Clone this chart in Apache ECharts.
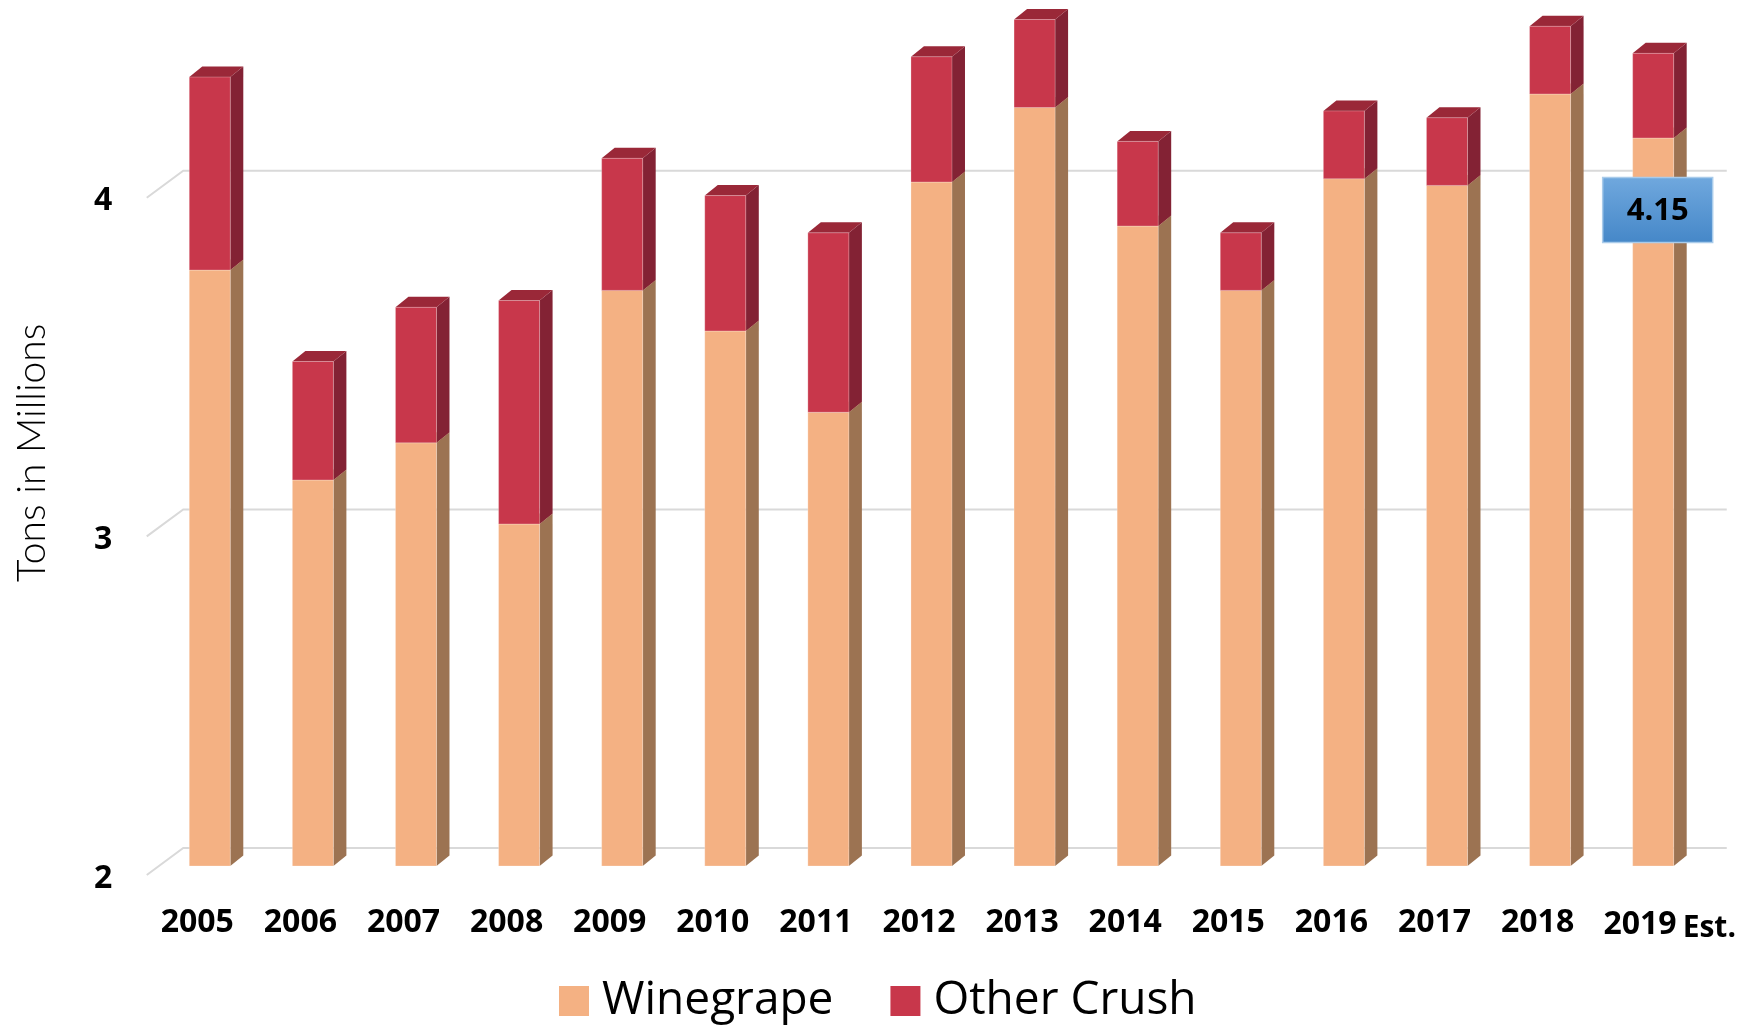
<!DOCTYPE html>
<html>
<head>
<meta charset="utf-8">
<script src="https://cdn.jsdelivr.net/npm/echarts@6/dist/echarts.min.js"></script>
<style>
html,body{margin:0;padding:0;background:#fff;}
#chart{width:1744px;height:1028px;}
</style>
</head>
<body>
<div id="chart"></div>
<script>
// ---- data ----
const years = ['2005','2006','2007','2008','2009','2010','2011','2012','2013','2014','2015','2016','2017','2018','2019'];
const estimateSuffix = 'Est.';
const winegrape  = [3.76, 3.14, 3.25, 3.01, 3.70, 3.58, 3.34, 4.02, 4.24, 3.89, 3.70, 4.03, 4.01, 4.28, 4.15];
const otherCrush = [0.57, 0.35, 0.40, 0.66, 0.39, 0.40, 0.53, 0.37, 0.26, 0.25, 0.17, 0.20, 0.20, 0.20, 0.25];
const yTicks = [2, 3, 4];
const labeledIndex = 14; // 2019 Est. winegrape value label
const axisMin = 2, axisMax = 4.5;

// ---- styling ----
const DX = 13, DY = 10.5;          // depth of pseudo-3D bars
const BAR_RATIO = 0.398;           // bar front width / band width
const BAR_SHIFT = -0.078;          // bar front left offset from band centre (in bands)
const colors = {
  wine:  {front:'#F4B183', side:'#9C7352', top:'#C98F66'},
  other: {front:'#C8374B', side:'#832234', top:'#9A2838'}
};

const chart = echarts.init(document.getElementById('chart'), null, {renderer:'canvas'});

function barItem(c, isLabelSeries) {
  return function (params, api) {
    const i = api.value(0), base = api.value(1), top = api.value(2);
    const band = api.size([1, 0])[0];
    const pT = api.coord([i, top]);
    const pB = api.coord([i, base]);
    const W = band * BAR_RATIO;
    const left = pT[0] + band * BAR_SHIFT;
    const R = left + W;
    const yT = pT[1], yB = pB[1];
    const children = [
      {type:'polygon', shape:{points:[[R,yB],[R+DX,yB-DY],[R+DX,yT-DY],[R,yT]]}, style:{fill:c.side}},
      {type:'polygon', shape:{points:[[left,yT],[R,yT],[R+DX,yT-DY],[left+DX,yT-DY]]}, style:{fill:c.top}},
      {type:'rect', shape:{x:left, y:yT, width:W, height:yB-yT}, style:{fill:c.front, stroke:'rgba(255,255,255,0.25)', lineWidth:1}}
    ];
    if (isLabelSeries && params.dataIndex === labeledIndex) {
      const cx = left + W/2 + 4.5, cy = yT + 72;
      children.push({
        type:'rect', z2: 50,
        shape:{x:cx-55, y:cy-32.5, width:110, height:65},
        style:{
          fill:new echarts.graphic.LinearGradient(0,0,0,1,[{offset:0,color:'#70A8DE'},{offset:1,color:'#4587C8'}]),
          stroke:'#A9CBEA', lineWidth:1.5
        }
      });
      children.push({
        type:'text', z2: 51,
        style:{x:cx, y:cy+1, text:top.toFixed(2), fill:'#000', font:'bold 31px "Open Sans"', textAlign:'center', textVerticalAlign:'middle'}
      });
    }
    return {type:'group', children};
  };
}

function gridItem(params, api) {
  const cs = params.coordSys;
  const v = api.value(1);
  const y = api.coord([0, v])[1];
  const x0 = cs.x + 1, x1 = cs.x + 37.5, x2 = cs.x + cs.width + 34.5;
  return {
    type:'polyline',
    shape:{points:[[x0, y+9],[x1, y-18],[x2, y-18]]},
    style:{stroke:'#D9D9D9', lineWidth:2, fill:null}
  };
}

const wineData = years.map((y,i)=>[i, axisMin, winegrape[i]]);
const otherData = years.map((y,i)=>[i, winegrape[i], winegrape[i]+otherCrush[i]]);

chart.setOption({
  animation:false,
  grid:{left:145.75, top:19.5, width:1546.5, height:846.5, containLabel:false, outerBoundsMode:'none'},
  legend:{
    left:554, top:973, itemWidth:30, itemHeight:30, itemGap:57,
    textStyle:{fontFamily:'Open Sans', fontSize:46, color:'#000', padding:[0,0,0,8]},
    data:[{name:'Winegrape', icon:'rect', itemStyle:{color:colors.wine.front}},
          {name:'Other Crush', icon:'rect', itemStyle:{color:colors.other.front}}]
  },
  xAxis:{
    type:'category', data:years,
    axisLine:{show:false}, axisTick:{show:false}, splitLine:{show:false},
    axisLabel:{
      margin:41, interval:0,
      formatter:(v,i)=> i===years.length-1 ? '{s| }{a|'+v+'}{e|'+estimateSuffix+'}' : '{a|'+v+'}',
      rich:{
        a:{fontFamily:'Open Sans', fontWeight:'bold', fontSize:32, color:'#000'},
        e:{fontFamily:'Open Sans', fontWeight:'bold', fontSize:30, color:'#000', padding:[6,0,0,6]},
        s:{width:58}
      }
    }
  },
  yAxis:{
    type:'value', min:axisMin, max:axisMax, interval:1,
    name:'Tons in Millions', nameLocation:'middle', nameGap:94,
    nameTextStyle:{fontFamily:'Lato', fontWeight:300, fontSize:39, color:'#000', padding:[0,20,0,0]},
    axisLine:{show:false}, axisTick:{show:false}, splitLine:{show:false},
    axisLabel:{showMaxLabel:false, margin:33.5, verticalAlign:'top', lineHeight:25,
      fontFamily:'Open Sans', fontWeight:'bold', fontSize:32, color:'#000'}
  },
  series:[
    {type:'custom', name:'grid', silent:true, z:1, renderItem:gridItem,
     data:yTicks.map(v=>[0,v]), encode:{x:0,y:1}, legendHoverLink:false},
    {type:'custom', name:'Winegrape', z:2, renderItem:barItem(colors.wine, true),
     itemStyle:{color:colors.wine.front}, data:wineData, encode:{x:0, y:[1,2]}},
    {type:'custom', name:'Other Crush', z:3, renderItem:barItem(colors.other, false),
     itemStyle:{color:colors.other.front}, data:otherData, encode:{x:0, y:[1,2]}}
  ]
});
</script>
</body>
</html>
